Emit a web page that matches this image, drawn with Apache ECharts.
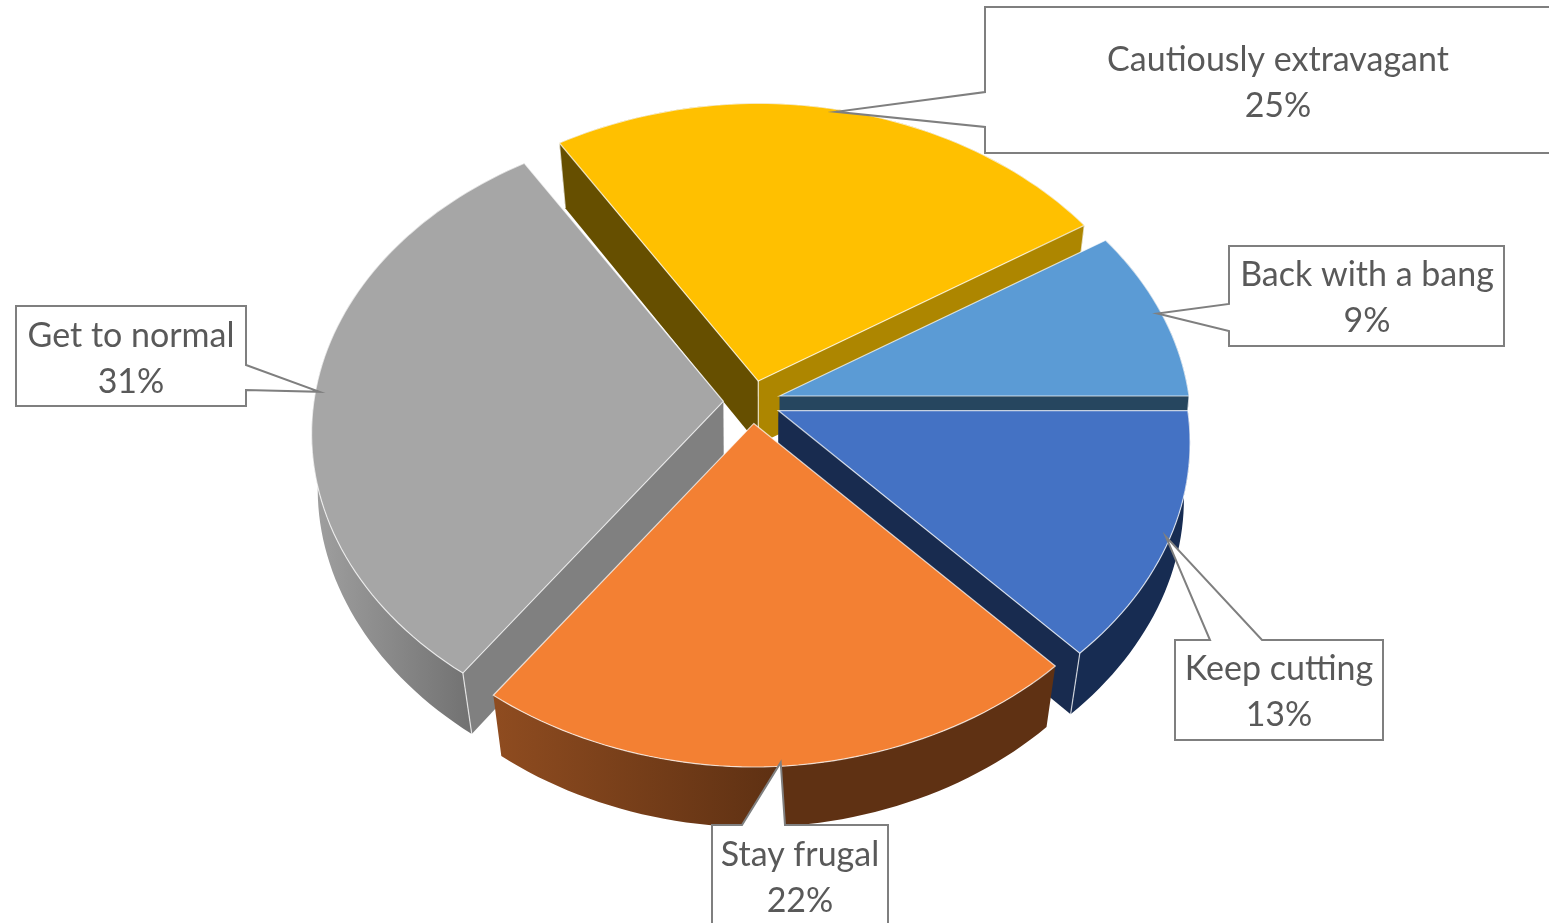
<!DOCTYPE html>
<html>
<head>
<meta charset="utf-8">
<title>Consumer spending mindset</title>
<style>
  html, body { margin: 0; padding: 0; background: #fff; }
  #chart { width: 1549px; height: 923px; }
</style>
<script src="https://cdn.jsdelivr.net/npm/echarts@6/dist/echarts.min.js"></script>
</head>
<body>
<div id="chart"></div>
<script>
// Share of respondents per spending mindset, clockwise from the first slice.
const categories = ['Back with a bang', 'Keep cutting', 'Stay frugal', 'Get to normal', 'Cautiously extravagant'];
const shares = [9, 13, 22, 31, 25];

// Colours per slice: top face, radial walls, rim wall.
const topColors = ['#5B9BD5', '#4472C4', '#F38033', '#A6A6A6', '#FFC000'];
const startWallColors = ['#26465F', '#182B4F', '#5F3113', '#808080', '#664F00'];
const endWallColors = ['#26465F', '#182B4F', '#5F3113', '#808080', '#AD8600'];
const rimStops = [
  [[0, '#26465F'], [1, '#26465F']],
  [[0, '#172C52'], [1, '#172C52']],
  [[0, '#8F4C20'], [0.5, '#5F3113'], [1, '#5F3113']],
  [[0, '#A0A0A0'], [1, '#606060']],
  [[0, '#664F00'], [1, '#664F00']]
];

// Callout boxes: left, top, right, bottom, plus the gap in the box edge for the leader.
const callouts = [
  { box: [1229, 246, 1504, 346], side: 'left', gap: [304, 331] },
  { box: [1175, 640, 1383, 740], side: 'top', gap: [1210, 1262] },
  { box: [712, 825, 888, 945], side: 'top', gap: [742, 785] },
  { box: [16, 306, 246, 406], side: 'right', gap: [365, 390] },
  { box: [985, 7, 1570, 153], side: 'left', gap: [92, 127] }
];
const labelCentres = [[1367, 298], [1279, 692], [800, 878], [131, 359], [1278, 83]];

// Projection of the pie disc: a tilted circle under mild perspective.
const centre = [752, 402];
const radius = 409.5;
const tilt = 0.75;
const perspective = 0.106;
const explode = 0.07;
const rimShape = 1.02;
const firstAngle = -32.4;
const toRad = Math.PI / 180;

const total = shares.reduce((a, b) => a + b, 0);
const slices = [];
shares.reduce((from, v, i) => {
  const to = from + v / total * 360;
  slices.push({ index: i, from, to, mid: (from + to) / 2 });
  return to;
}, firstAngle);

function project(deg, scale) {
  const c = Math.cos(deg * toRad);
  const u = Math.sign(c) * Math.pow(Math.abs(c), rimShape) * scale;
  const v = Math.sin(deg * toRad) * scale;
  const w = 1 - perspective * v;
  return [radius * u / w, radius * tilt * v / w];
}

function apexOf(s) {
  const a = Math.cos(s.mid * toRad) * explode;
  const b = Math.sin(s.mid * toRad) * explode;
  return [centre[0] + radius * a, centre[1] + radius * tilt * b];
}

function rimPoint(s, deg, scale) {
  const a = apexOf(s);
  const p = project(deg, scale === undefined ? 1 : scale);
  return [a[0] + p[0], a[1] + p[1]];
}

// Lower face of the extruded disc: shifted down and drawn in slightly,
// pulled in more towards the front and back of the disc than at its sides.
function lower(p) {
  const pull = 0.988 - 0.018 * Math.min(1, Math.abs(p[1] - 405) / 265);
  return [760 + (p[0] - 760) * pull, p[1] + 63 - 0.008 * (p[1] - 420)];
}

function arcPoints(s) {
  const pts = [];
  const steps = Math.ceil((s.to - s.from) / 1.5);
  for (let i = 0; i <= steps; i++) {
    pts.push(rimPoint(s, s.from + (s.to - s.from) * i / steps));
  }
  return pts;
}

const edgeLine = 'rgba(255,255,255,0.72)';

function poly(points, fill) {
  return { type: 'polygon', shape: { points }, style: { fill } };
}

function edge(a, b) {
  return {
    type: 'line',
    shape: { x1: a[0], y1: a[1], x2: b[0], y2: b[1] },
    style: { stroke: edgeLine, lineWidth: 1.2, fill: null }
  };
}

function renderSlice(params, api) {
  const s = slices[api.value(0)];
  const i = s.index;
  const apex = apexOf(s);
  const arc = arcPoints(s);
  const first = arc[0];
  const last = arc[arc.length - 1];
  const children = [];

  // Rim wall first, then the radial walls facing the viewer, then the top face.
  const rimWall = arc.concat(arc.slice().reverse().map(lower));
  const xs = rimWall.map(p => p[0]);
  const minX = Math.min.apply(null, xs);
  const maxX = Math.max.apply(null, xs);
  children.push(poly(rimWall, new echarts.graphic.LinearGradient(
    minX, 0, maxX, 0,
    rimStops[i].map(st => ({ offset: st[0], color: st[1] })),
    true
  )));

  const startVisible = Math.cos(s.from * toRad) < 0;
  const endVisible = Math.cos(s.to * toRad) > 0;
  if (startVisible) {
    children.push(poly([apex, first, lower(first), lower(apex)], startWallColors[i]));
    children.push(edge(first, lower(first)));
  }
  if (endVisible) {
    children.push(poly([apex, last, lower(last), lower(apex)], endWallColors[i]));
    children.push(edge(last, lower(last)));
  }
  if (startVisible && endVisible) {
    children.push(edge(apex, lower(apex)));
  }

  children.push({
    type: 'polygon',
    shape: { points: [apex].concat(arc) },
    style: { fill: topColors[i], stroke: edgeLine, lineWidth: 1.2, lineJoin: 'miter' }
  });
  return { type: 'group', children };
}

function renderCallout(params, api) {
  const s = slices[api.value(0)];
  const i = s.index;
  const c = callouts[i];
  const tip = rimPoint(s, s.mid, 0.99);
  const [l, t, r, b] = c.box;
  const g = c.gap;
  let outline;
  if (c.side === 'left') {
    outline = [[l, t], [r, t], [r, b], [l, b], [l, g[1]], tip, [l, g[0]]];
  } else if (c.side === 'right') {
    outline = [[l, t], [r, t], [r, g[0]], tip, [r, g[1]], [r, b], [l, b]];
  } else {
    outline = [[l, t], [g[0], t], tip, [g[1], t], [r, t], [r, b], [l, b]];
  }
  return {
    type: 'group',
    children: [
      {
        type: 'polygon',
        shape: { points: outline },
        style: { fill: '#FFFFFF', stroke: '#7F7F7F', lineWidth: 2, lineJoin: 'miter' }
      },
      {
        type: 'text',
        style: {
          x: labelCentres[i][0],
          y: labelCentres[i][1],
          text: categories[i] + '\n' + shares[i] + '%',
          align: 'center',
          verticalAlign: 'middle',
          lineHeight: 46,
          fill: '#595959',
          font: '34px Lato, "Open Sans", sans-serif'
        }
      }
    ]
  };
}

// Back slices are painted before front ones.
const paintOrder = slices.slice().sort((a, b) => Math.sin(a.mid * toRad) - Math.sin(b.mid * toRad));
const seriesData = paintOrder.map(s => ({ name: categories[s.index], value: [s.index, shares[s.index]] }));

const chart = echarts.init(document.getElementById('chart'), null, { renderer: 'canvas' });
chart.setOption({
  animation: false,
  backgroundColor: '#FFFFFF',
  series: [
    {
      type: 'custom',
      coordinateSystem: 'none',
      clip: false,
      silent: true,
      z: 2,
      renderItem: renderSlice,
      data: seriesData
    },
    {
      type: 'custom',
      coordinateSystem: 'none',
      clip: false,
      silent: true,
      z: 3,
      renderItem: renderCallout,
      data: seriesData
    }
  ]
});
</script>
</body>
</html>
